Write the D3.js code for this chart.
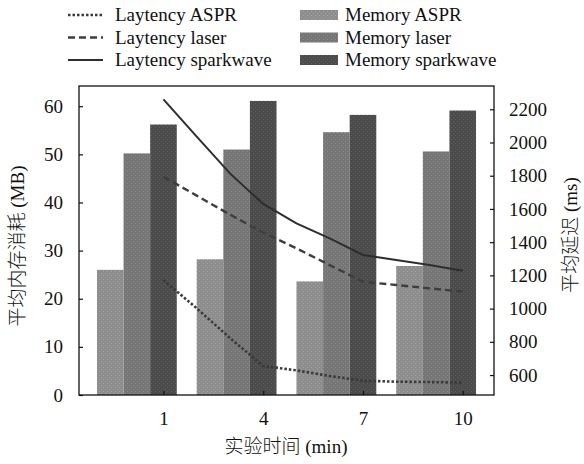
<!DOCTYPE html>
<html>
<head>
<meta charset="utf-8">
<script src="https://cdn.jsdelivr.net/npm/d3@7"></script>
<style>
  body { margin: 0; background: #fff; }
  text { font-family: "Liberation Serif", "Noto Sans CJK SC", serif; fill: #111; }
  .title { font-weight: 300; }
</style>
</head>
<body>
<div id="chart"></div>
<script>
// memory per group (MB), left axis
let minutes  = [1, 4, 7, 10];
let memASPR  = [26.0, 28.2, 23.6, 26.8];
let memLaser = [50.2, 51.0, 54.6, 50.6];
let memSpark = [56.2, 61.1, 58.2, 59.1];

// latency per minute (ms), right axis
let latMinutes = [1, 2, 3, 4, 5, 6, 7, 8, 9, 10];
let latASPR  = [1172, 1002, 823, 655, 628, 594, 566, 560, 558, 554];
let latLaser = [1794, 1680, 1566, 1458, 1363, 1262, 1162, 1142, 1122, 1102];
let latSpark = [2260, 2035, 1814, 1630, 1513, 1423, 1323, 1293, 1262, 1228];

let leftTicks  = [0, 10, 20, 30, 40, 50, 60];
let rightTicks = [600, 800, 1000, 1200, 1400, 1600, 1800, 2000, 2200];

let w = 584;
let h = 464;
let L = 79, R = 494, T = 86, B = 395;

let svg = d3.select('#chart').append('svg').attr('width', w).attr('height', h);

let barSeries = [
  {name: 'Memory ASPR',      vals: memASPR,  color: '#8d8d8d', dot: '#a3a3a3'},
  {name: 'Memory laser',     vals: memLaser, color: '#767676', dot: '#8a8a8a'},
  {name: 'Memory sparkwave', vals: memSpark, color: '#4b4b4b', dot: '#5e5e5e'}
];
let lineSeries = [
  {name: 'Laytency ASPR',      vals: latASPR,  color: '#3a3a3a', width: 2.6, dash: '2.5,2'},
  {name: 'Laytency laser',     vals: latLaser, color: '#3e3e3e', width: 2.4, dash: '7,4'},
  {name: 'Laytency sparkwave', vals: latSpark, color: '#2e2e2e', width: 2,   dash: null}
];

// stipple patterns for the bars
let defs = svg.append('defs');
barSeries.forEach((s, i) => {
  let p = defs.append('pattern').attr('id', 'pat' + i)
    .attr('width', 4).attr('height', 4).attr('patternUnits', 'userSpaceOnUse');
  p.append('rect').attr('width', 4).attr('height', 4).attr('fill', s.color);
  p.append('rect').attr('x', 1).attr('y', 1).attr('width', 1).attr('height', 1).attr('fill', s.dot);
  p.append('rect').attr('x', 3).attr('y', 3).attr('width', 1).attr('height', 1).attr('fill', s.dot);
});

let xBand = d3.scaleBand().domain(minutes).range([L, R]).paddingInner(0.2).paddingOuter(0.18);
let xSub  = d3.scaleBand().domain(barSeries.map(s => s.name)).range([0, xBand.bandwidth()]);
let center = m => xBand(m) + xSub('Memory sparkwave') + xSub.bandwidth() / 2;
let xLine = d3.scaleLinear().domain([1, 10]).range([center(1), center(10)]);

let yL = d3.scaleLinear().domain([0, 64.2]).range([B, T]);
let yR = d3.scaleLinear().domain([480, 2340]).range([B, T]);

// bars
barSeries.forEach((s, i) => {
  svg.append('g').selectAll('rect').data(minutes).enter().append('rect')
    .attr('x', (m) => xBand(m) + xSub(s.name))
    .attr('y', (m, j) => yL(s.vals[j]))
    .attr('width', xSub.bandwidth())
    .attr('height', (m, j) => B - yL(s.vals[j]))
    .attr('fill', 'url(#pat' + i + ')');
});

// latency lines
let line = d3.line().x((d, i) => xLine(latMinutes[i])).y(d => yR(d));
lineSeries.forEach(s => {
  svg.append('path').attr('d', line(s.vals))
    .attr('fill', 'none').attr('stroke', s.color)
    .attr('stroke-width', s.width)
    .attr('stroke-dasharray', s.dash);
});

// frame
svg.append('rect').attr('x', L).attr('y', T).attr('width', R - L).attr('height', B - T)
  .attr('fill', 'none').attr('stroke', '#111').attr('stroke-width', 1.3);

// axes, ticks inward
let axL = svg.append('g').attr('transform', 'translate(' + L + ',0)')
  .call(d3.axisLeft(yL).tickValues(leftTicks).tickSize(-4).tickPadding(16));
let axR = svg.append('g').attr('transform', 'translate(' + R + ',0)')
  .call(d3.axisRight(yR).tickValues(rightTicks).tickFormat(d3.format('d')).tickSize(-4).tickPadding(15));
let axB = svg.append('g').attr('transform', 'translate(0,' + B + ')')
  .call(d3.axisBottom(xLine).tickValues(minutes).tickSize(-4).tickPadding(17));

[axL, axR, axB].forEach(a => {
  a.select('.domain').remove();
  a.selectAll('line').attr('stroke', '#111').attr('stroke-width', 1.2);
  a.selectAll('text').attr('font-size', 19)
    .attr('font-family', '"Liberation Serif", serif').attr('fill', '#111');
});

// axis titles
svg.append('text').attr('class', 'title').attr('transform', 'translate(24,246) rotate(-90)')
  .attr('text-anchor', 'middle').attr('font-size', 19).text('平均内存消耗 (MB)');
svg.append('text').attr('class', 'title').attr('transform', 'translate(577,235) rotate(-90)')
  .attr('text-anchor', 'middle').attr('font-size', 19).text('平均延迟 (ms)');
svg.append('text').attr('class', 'title').attr('x', 286).attr('y', 453)
  .attr('text-anchor', 'middle').attr('font-size', 19).text('实验时间 (min)');

// legend
let rowY = [21, 43.5, 66];
lineSeries.forEach((s, i) => {
  svg.append('line').attr('x1', 68).attr('x2', 103)
    .attr('y1', rowY[i] - 6).attr('y2', rowY[i] - 6)
    .attr('stroke', s.color).attr('stroke-width', s.width)
    .attr('stroke-dasharray', s.dash);
  svg.append('text').attr('x', 115).attr('y', rowY[i]).attr('font-size', 19).text(s.name);
});
barSeries.forEach((s, i) => {
  svg.append('rect').attr('x', 300).attr('y', rowY[i] - 11)
    .attr('width', 38).attr('height', 10).attr('fill', 'url(#pat' + i + ')');
  svg.append('text').attr('x', 345).attr('y', rowY[i]).attr('font-size', 19).text(s.name);
});
</script>
</body>
</html>
